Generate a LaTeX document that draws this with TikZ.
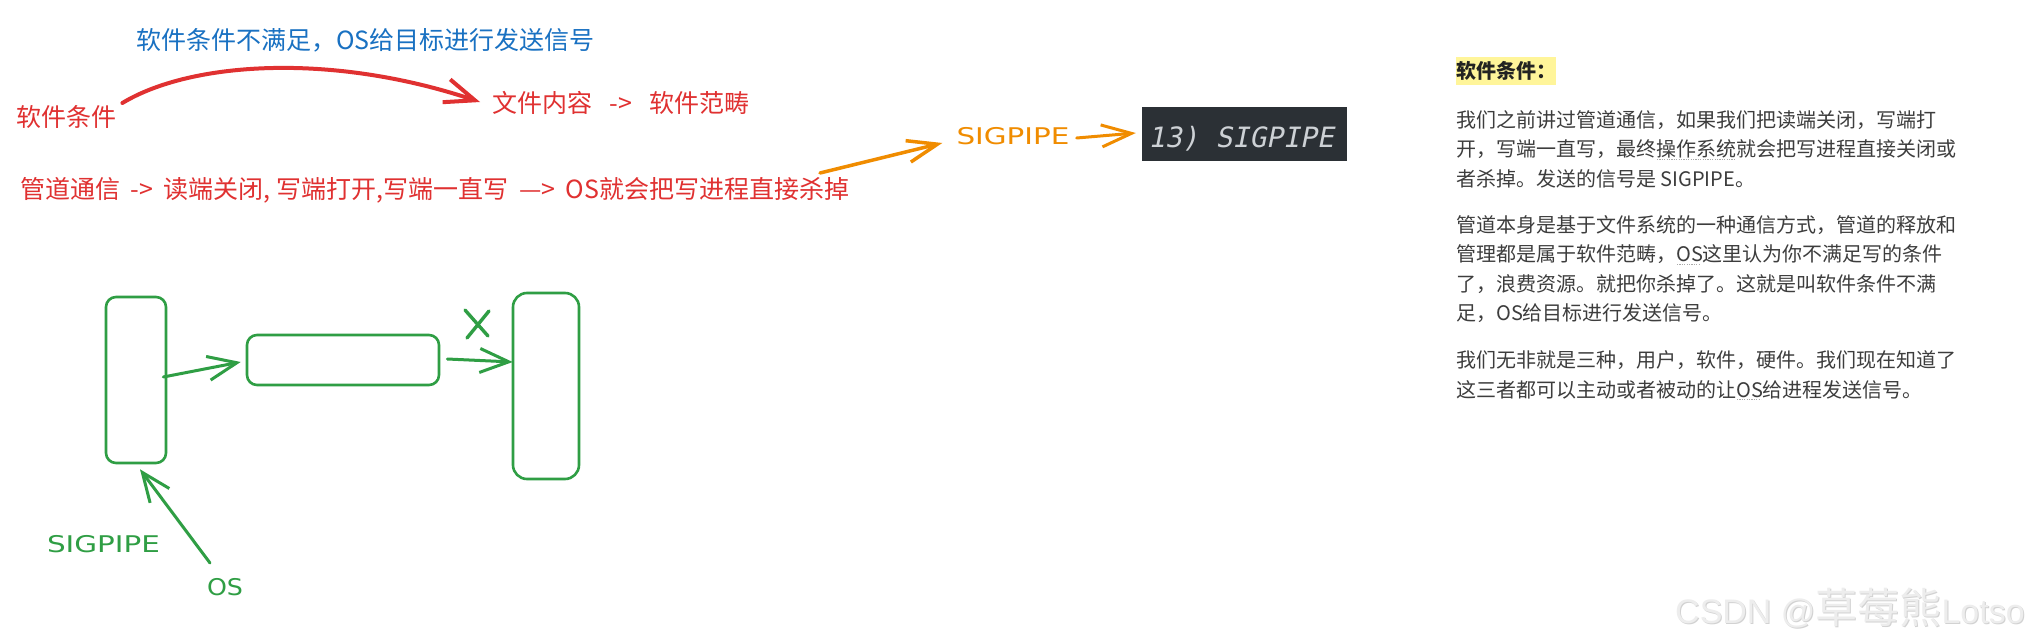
\documentclass[tikz,border=0pt]{standalone}
\usepackage{fontspec}
\usetikzlibrary{arrows.meta}
\setmainfont{Noto Sans CJK SC}
\newfontfamily\cjk{Noto Sans CJK SC}
\newfontfamily\handfont{DejaVu Sans}
\newfontfamily\codefont{DejaVu Sans Mono}[FakeSlant=0.2]
\newfontfamily\wmfont{Liberation Sans}
\definecolor{exred}{HTML}{E03131}
\definecolor{exblue}{HTML}{1971C2}
\definecolor{exorange}{HTML}{F08C00}
\definecolor{exgreen}{HTML}{2F9E44}
\definecolor{bodytext}{HTML}{3D3D3D}
\definecolor{headtext}{HTML}{222222}
\definecolor{hl}{HTML}{FFF59A}
\definecolor{codebg}{HTML}{2B3035}
\definecolor{codefg}{HTML}{CDD1D5}
\definecolor{wmfg}{HTML}{EDEDED}
\definecolor{wmshadow}{HTML}{D2D2D2}
\definecolor{dotgray}{HTML}{AAAAAA}
\begin{document}
\begin{tikzpicture}[x=1pt,y=-1pt,
  sk/.style={inner sep=0pt, anchor=west, font=\cjk\fontsize{25}{28}\selectfont},
  hand/.style={inner sep=0pt, font=\handfont\fontsize{23}{26}\selectfont},
  body/.style={inner sep=0pt, anchor=west, text=bodytext, font=\cjk\fontsize{20}{24}\selectfont},
  gbox/.style={draw=exgreen, line width=2.6pt, rounded corners=10pt, inner sep=0pt},
  gline/.style={draw=exgreen, line width=3pt, line cap=round},
  garrow/.style={gline, -{Straight Barb[length=29pt,width=24pt]}},
  redarrow/.style={draw=exred, line width=4pt, line cap=round, -{Straight Barb[length=30pt,width=24pt]}},
  orarrow/.style={draw=exorange, line width=3.5pt, line cap=round, -{Straight Barb[length=30pt,width=22pt]}},
  dotline/.style={draw=dotgray, line width=1pt, dash pattern=on 1.2pt off 1.2pt}
]
\useasboundingbox[fill=white] (0,0) rectangle (2040,642);

% ---- top sketch texts
\node[sk, text=exblue] (title) at (136,40) {软件条件不满足，OS给目标进行发送信号};
\node[sk, text=exred] (sc) at (16,117) {软件条件};
\node[sk, text=exred] (wj) at (492,103) {文件内容\hspace{12pt} -> \hspace{12pt}软件范畴};
\node[sk, text=exred] (pipe) at (20,190) {管道通信\hspace{5pt} -> \hspace{5pt}读端关闭, 写端打开,写端一直写\hspace{5pt} —> \hspace{5pt}OS就会把写进程直接杀掉};
\draw[redarrow] ([shift={(6pt,14pt)}]sc.east) .. controls (190,62) and (330,52) .. ([shift={(-12pt,1pt)}]wj.west);

% ---- SIGPIPE chain
\node[hand, text=exorange] (sigo) at (1013,136) {\scalebox{1.28}[1]{SIGPIPE}};
\coordinate (otail) at (820,173);
\draw[orarrow] (otail) -- ([shift={(-14pt,-7pt)}]sigo.west);
\node[fill=codebg, minimum width=205pt, minimum height=54pt, inner sep=0pt] (code) at (1244.5,134) {};
\node[inner sep=0pt, anchor=west, text=codefg, font=\codefont\fontsize{28}{30}\selectfont] (codetxt) at (1148,139) {13) SIGPIPE};
\draw[orarrow, line width=3pt] ([shift={(7pt,-2pt)}]sigo.east) -- ([shift={(-6pt,1pt)}]code.west);

% ---- green diagram
\node[gbox, minimum width=60pt, minimum height=166pt] (lbox) at (136,380) {};
\node[gbox, minimum width=192pt, minimum height=50pt] (mbox) at (343,360) {};
\node[gbox, minimum width=66pt, minimum height=186pt, rounded corners=14pt] (rbox) at (546,386) {};
\draw[garrow] ([shift={(-4pt,3pt)}]lbox.east) -- ([shift={(-5pt,-2pt)}]mbox.west);
\draw[garrow] ([shift={(7pt,1pt)}]mbox.east) -- ([shift={(1pt,24pt)}]rbox.west);
\draw[gline, line width=3.4pt] (465,310) -- (488,336);
\draw[gline, line width=3.4pt] (489,311) -- (467,338);
\node[hand, text=exgreen] (sigg) at (103.5,544) {\scalebox{1.28}[1]{SIGPIPE}};
\node[hand, text=exgreen] (os) at (225,587) {\scalebox{1.1}[1]{OS}};
\coordinate (ostail) at (210,563);
\draw[garrow] (ostail) -- ([shift={(4pt,-5pt)}]lbox.south);

% ---- right text column
\fill[hl] (1456,57) rectangle (1556,85);
\node[body, text=headtext, font=\cjk\bfseries\fontsize{20}{24}\selectfont] (head) at (1456,71) {软件条件：};
\node[body] (p1a) at (1456,120) {我们之前讲过管道通信，如果我们把读端关闭，写端打};
\node[body] (p1b) at (1456,149.5) {开，写端一直写，最终操作系统就会把写进程直接关闭或};
\node[body] (p1c) at (1456,179) {者杀掉。发送的信号是 SIGPIPE。};
\node[body] (p2a) at (1456,225) {管道本身是基于文件系统的一种通信方式，管道的释放和};
\node[body] (p2b) at (1456,254.5) {管理都是属于软件范畴，OS这里认为你不满足写的条件};
\node[body] (p2c) at (1456,284) {了，浪费资源。就把你杀掉了。这就是叫软件条件不满};
\node[body] (p2d) at (1456,313.5) {足，OS给目标进行发送信号。};
\node[body] (p3a) at (1456,360) {我们无非就是三种，用户，软件，硬件。我们现在知道了};
\node[body] (p3b) at (1456,389.5) {这三者都可以主动或者被动的让OS给进程发送信号。};
\draw[dotline] (1657,159) -- (1736,159);
\draw[dotline] (1677,264) -- (1700,264);
\draw[dotline] (1737,399) -- (1761,399);

% ---- watermark
\node[inner sep=0pt, anchor=west, text=wmshadow] (wmsh) at (1676,609) {{\wmfont\fontsize{34}{40}\selectfont CSDN @}{\cjk\fontsize{42}{46}\selectfont 草莓熊}{\wmfont\fontsize{34}{40}\selectfont Lotso}};
\node[inner sep=0pt, anchor=west, text=wmfg] (wm) at (1675,608) {{\wmfont\fontsize{34}{40}\selectfont CSDN @}{\cjk\fontsize{42}{46}\selectfont 草莓熊}{\wmfont\fontsize{34}{40}\selectfont Lotso}};
\end{tikzpicture}
\end{document}
